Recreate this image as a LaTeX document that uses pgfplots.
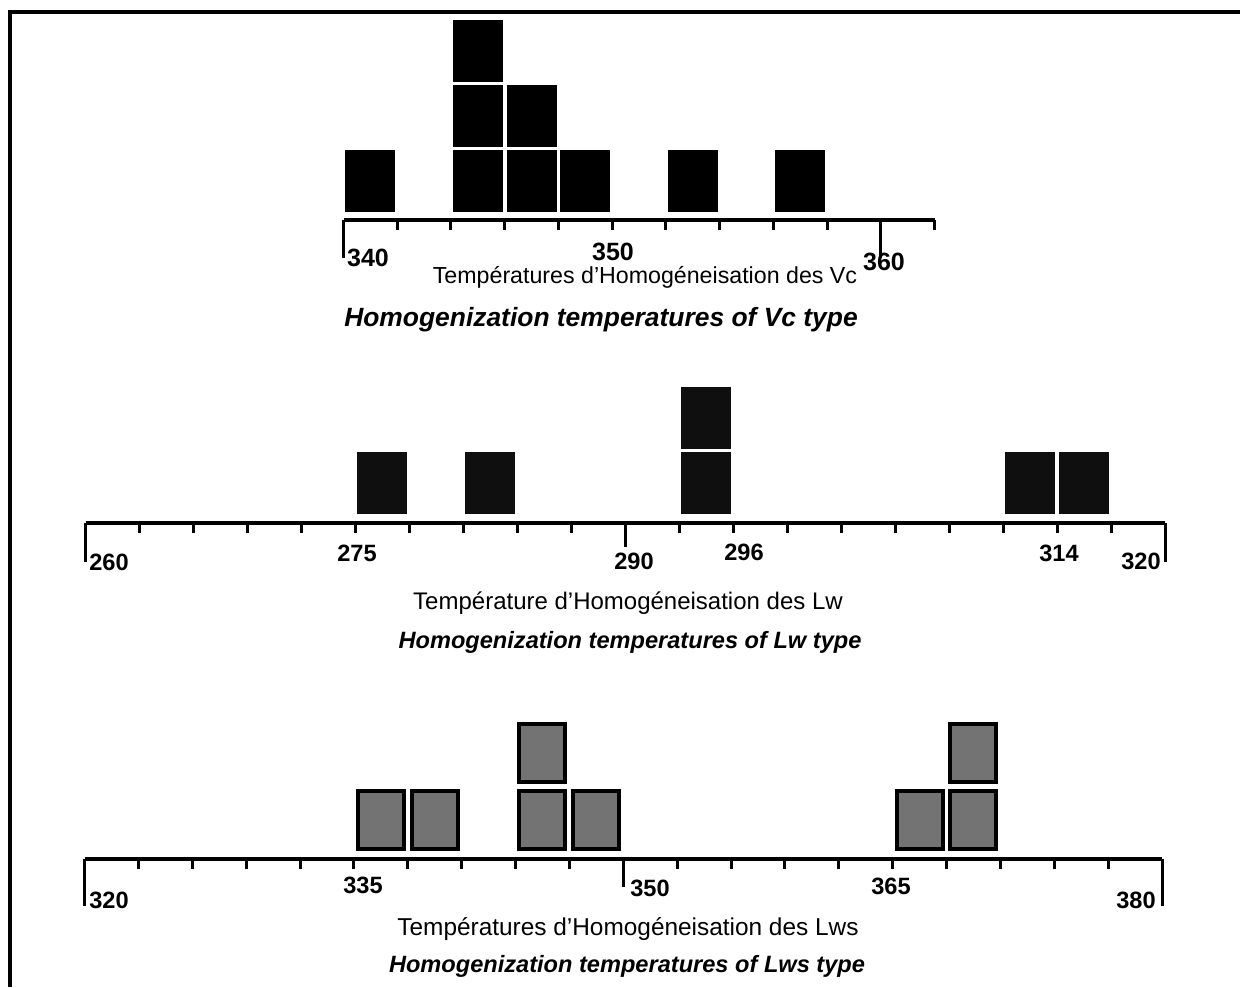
\documentclass[border=0pt]{standalone}
\usepackage{pgfplots}
\pgfplotsset{compat=1.18}
\usepackage{fontspec}
\setmainfont{Liberation Sans}
\definecolor{lwsgray}{gray}{0.45}

\pgfdeclareplotmark{vcbox}{%
  \pgfpathrectangle{\pgfpoint{-12.5pt}{-15.5pt}}{\pgfpoint{25pt}{31pt}}%
  \pgfsetfillcolor{black}\pgfusepath{fill}}
\pgfdeclareplotmark{lwbox}{%
  \pgfpathrectangle{\pgfpoint{-12.5pt}{-15.5pt}}{\pgfpoint{25pt}{31pt}}%
  \pgfsetfillcolor{black!94}\pgfusepath{fill}}
\pgfdeclareplotmark{lwsbox}{%
  \pgfpathrectangle{\pgfpoint{-12.5pt}{-15.5pt}}{\pgfpoint{25pt}{31pt}}%
  \pgfsetfillcolor{black}\pgfusepath{fill}%
  \pgfpathrectangle{\pgfpoint{-10.5pt}{-13.5pt}}{\pgfpoint{21pt}{27pt}}%
  \pgfsetfillcolor{lwsgray}\pgfusepath{fill}}

\pgfplotsset{
  hist/.style={
    scale only axis, anchor=south west, clip=false,
    axis x line*=bottom, axis y line=none,
    x axis line style={line width=2pt,-},
    ytick=\empty,
    tick align=outside,
    major tick length=5pt,
    minor tick length=12pt,
    tick style={black, line width=1.5pt},
    xticklabels={},
    extra x tick labels={},
    only marks,
  }
}

\begin{document}
\begin{tikzpicture}[x=0.5pt,y=0.5pt]
\useasboundingbox (0,0) rectangle (1240,987);
\draw[line width=1.6pt] (10,0) -- (10,975) -- (1240,975);

% ---------- Vc ----------
\begin{axis}[hist, at={(171.75pt,383.5pt)}, width=295.5pt, height=100.75pt,
  xmin=340, xmax=362, ymin=-0.1, ymax=3,
  xtick={340,342,...,362},
  extra x ticks={340,360},
  extra x tick style={major tick length=19pt}]
\addplot[mark=vcbox] coordinates {
 (341,0.5) (345,0.5) (345,1.5) (345,2.5) (347,0.5) (347,1.5)
 (349,0.5) (353,0.5) (357,0.5)};
\end{axis}

% ---------- Lw ----------
\begin{axis}[hist, at={(42.75pt,232pt)}, width=539.75pt, height=69.1pt,
  xmin=260, xmax=320, ymin=-0.11, ymax=2,
  xtick={260,263,...,320},
  minor xtick={290},
  extra x ticks={260,320},
  extra x tick style={major tick length=19.5pt}]
\addplot[mark=lwbox] coordinates {
 (276.5,0.5) (282.5,0.5) (294.5,0.5) (294.5,1.5) (312.5,0.5) (315.5,0.5)};
\end{axis}

% ---------- Lws ----------
\begin{axis}[hist, at={(42.25pt,64pt)}, width=538.75pt, height=69.5pt,
  xmin=320, xmax=380, ymin=-0.09, ymax=2,
  xtick={320,323,...,380},
  minor xtick={350},
  minor tick length=14pt,
  extra x ticks={320,380},
  extra x tick style={major tick length=23.5pt}]
\addplot[mark=lwsbox] coordinates {
 (336.5,0.5) (339.5,0.5) (345.5,0.5) (345.5,1.5) (348.5,0.5)
 (366.5,0.5) (369.5,0.5) (369.5,1.5)};
\end{axis}

% tick labels
\begin{scope}[every node/.style={font=\fontsize{12.5}{14}\selectfont\bfseries, inner sep=0pt}]
\node at (368,729) {340};
\node at (613,735) {350};
\node at (884,725) {360};
\end{scope}
\begin{scope}[every node/.style={font=\fontsize{11.8}{14}\selectfont\bfseries, inner sep=0pt}]
\node at (109,425) {260};
\node at (357,434) {275};
\node at (634,426) {290};
\node at (744,435) {296};
\node at (1059,434) {314};
\node at (1141,425.5) {320};
\node at (109,87) {320};
\node at (363,102) {335};
\node at (650,99) {350};
\node at (891,101) {365};
\node at (1136,87) {380};
\end{scope}

% titles
\node[font=\fontsize{11.6}{14}\selectfont, inner sep=0pt] at (645,710) {Températures d'Homogéneisation des Vc};
\node[font=\fontsize{13.2}{15}\selectfont\bfseries\itshape, inner sep=0pt] at (601,667) {Homogenization temperatures of Vc type};
\node[font=\fontsize{12}{14}\selectfont, inner sep=0pt] at (628,384) {Température d'Homogéneisation des Lw};
\node[font=\fontsize{11.8}{14}\selectfont\bfseries\itshape, inner sep=0pt] at (630,345) {Homogenization temperatures of Lw type};
\node[font=\fontsize{12.2}{14}\selectfont, inner sep=0pt] at (628,58) {Températures d'Homogéneisation des Lws};
\node[font=\fontsize{11.8}{14}\selectfont\bfseries\itshape, inner sep=0pt] at (627,21) {Homogenization temperatures of Lws type};
\end{tikzpicture}
\end{document}
